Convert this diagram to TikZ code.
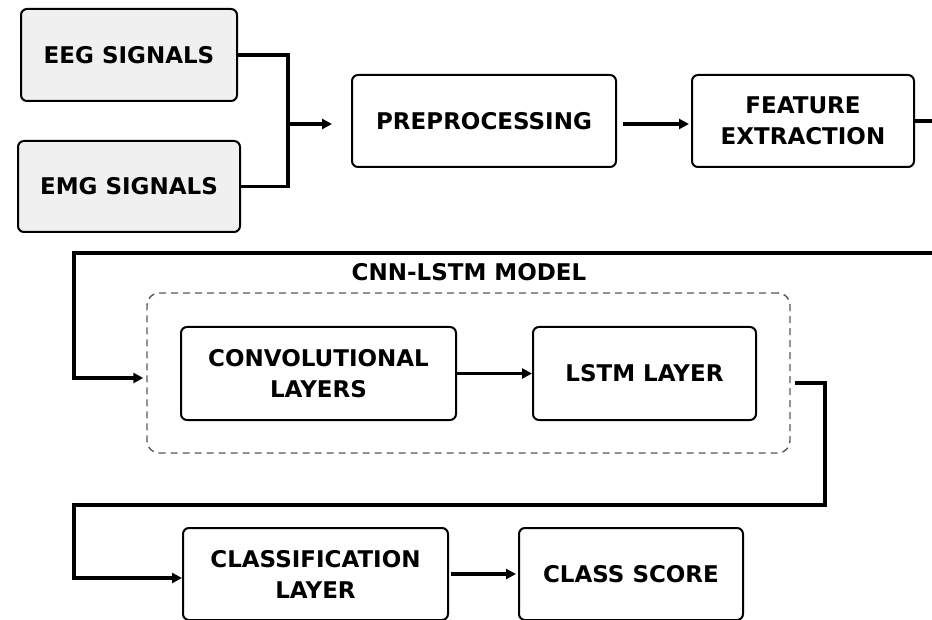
\documentclass[tikz,border=0pt]{standalone}
\usepackage{fontspec}
\setmainfont{DejaVu Sans}
\usepackage{tikz}
\usetikzlibrary{
    arrows.meta,
    calc,
    positioning
}

\tikzset{
    blk/.style={draw, rounded corners=6pt, line width=2pt, align=center,
        inner sep=0pt, font=\fontsize{23}{31}\selectfont\bfseries},
    src/.style={blk, fill=gray!12},
    flow/.style={line width=3.4pt, -{Triangle[length=10pt,width=10pt]}},
    wire/.style={line width=3.4pt}
}

\begin{document}
\begin{tikzpicture}[x=1pt, y=-1pt]
    \useasboundingbox (0,0) rectangle (932,620);
    % inputs and first stage
    \node[src, minimum width=216pt, minimum height=92pt] (eeg) at (129, 55) {EEG SIGNALS};
    \node[src, minimum width=222pt, minimum height=91pt] (emg) at (129, 186.5) {EMG SIGNALS};
    \node[blk, minimum width=264pt, minimum height=92pt] (pre) at (484, 121) {PREPROCESSING};
    \node[blk, minimum width=222pt, minimum height=92pt] (fex) at (803, 121) {FEATURE\\EXTRACTION};
    % model block
    \node[draw=black!65, dash pattern=on 7pt off 5pt, line width=1.4pt,
        rounded corners=12pt, minimum width=643pt, minimum height=160pt] (mdl) at (468.5, 373) {};
    \node[font=\fontsize{23}{31}\selectfont\bfseries] (mdlt) at (469, 272) {CNN-LSTM MODEL};
    \node[blk, minimum width=275pt, minimum height=93pt] (cnv) at (318.5, 373.5) {CONVOLUTIONAL\\LAYERS};
    \node[blk, minimum width=223pt, minimum height=93pt] (lstm) at (644.5, 373.5) {LSTM LAYER};
    % output stage
    \node[blk, minimum width=265pt, minimum height=92pt] (cls) at (315.5, 574) {CLASSIFICATION\\LAYER};
    \node[blk, minimum width=224pt, minimum height=92pt] (scr) at (631, 574) {CLASS SCORE};

    \coordinate (jn) at (288, 124);
    \coordinate (cutA) at (932, 121);
    \coordinate (cutB) at (932, 253);
    \coordinate (bnA) at (74, 253);
    \coordinate (bnB) at (825, 505);
    \coordinate (bnC) at (74, 505);

    \draw[wire] (eeg.east) -| (jn);
    \draw[wire] (emg.east) -| (jn);
    \draw[flow, shorten >=19pt] (jn) -- (pre.west |- jn);
    \draw[flow, shorten <=6pt, shorten >=2pt] (pre.east |- jn) -- (fex.west |- jn);
    \draw[wire] (fex.east) -- (cutA);
    \draw[flow, shorten >=3pt] (cutB) -- (bnA) |- ([yshift=-5pt]mdl.west);
    \draw[flow] (cnv) -- (lstm);
    \draw[flow] ([xshift=4pt,yshift=-10pt]mdl.east) -| (bnB) -- (bnC) |- ([yshift=-4pt]cls.west);
    \draw[flow, shorten <=2pt, shorten >=2pt] (cls) -- (scr);
\end{tikzpicture}
\end{document}
